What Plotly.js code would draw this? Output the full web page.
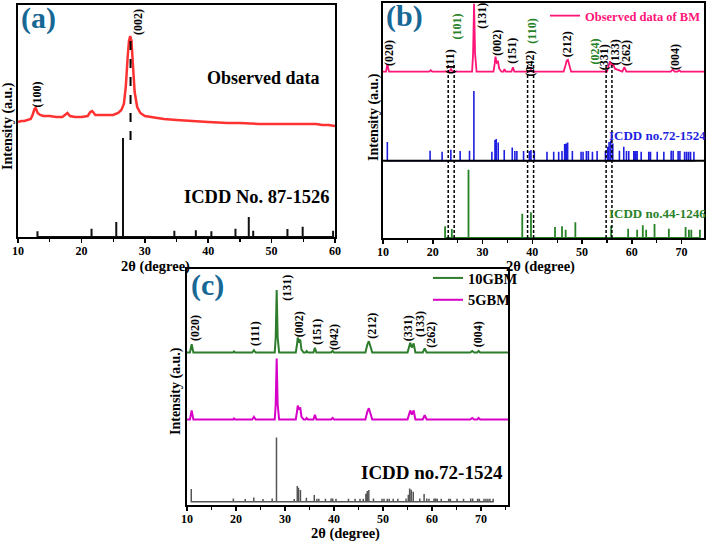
<!DOCTYPE html>
<html><head><meta charset="utf-8">
<script src="https://cdn.plot.ly/plotly-3.0.1.min.js"></script>
<style>html,body{margin:0;padding:0;background:#fff}#plot{width:709px;height:542px}</style>
</head><body><div id="plot"></div>
<script>
// ---------- Panel (a) ----------
const A_OBS_X = [10,10.5,11,11.5,12,12.3,12.6,12.8,13.1,13.5,14,15,16,17,17.5,17.8,18.2,19,20,21,21.4,21.7,22.2,23,24,25,25.8,26.3,26.7,27.0,27.3,27.5,27.7,27.9,28.1,28.4,28.8,29.3,30,31,32,33,35,37,40,43,45,48,50,52,55,57,58,59,60];
const A_OBS_Y = [115,116,116,117,118,122,128,129,124,122,121,121,120,120,122,124,121,120,120,121,125,126,122,122,122,122,124,127,133,150,180,196,201,196,175,145,130,124,121,120,119,118,117,116,115,114,114,113,113,113,113,113,112,112,111];
const A_ICDD_POS = [13.07,21.6,25.5,26.56,34.66,38.05,40.5,44.3,46.4,47.1,52.5,54.9,59.7];
const A_ICDD_INT = [5.7,8.3,15,99,6.3,6.7,5.7,8.3,20,6.3,8,10.3,6.3];
const A_TICKS = [10,20,30,40,50,60];

// ---------- Panel (b) ----------
const BM_X = [10,10.6,10.87,11.2,19.3,19.6,19.9,23.3,23.65,24.0,27.9,28.1,28.3,28.5,28.8,32.2,32.45,32.6,32.85,33.1,33.35,33.8,34.2,34.4,34.7,35.8,36.1,36.4,39.4,39.7,40.0,46.3,46.7,46.9,47.15,47.5,47.8,55.0,55.35,55.6,55.9,56.25,56.6,58.1,58.5,58.9,67.8,68.2,68.6,69.2,69.5,69.8,74.5];
const BM_Y = [0,0,7.4,0,0,1.5,0,0,2.5,0,0,18,68,18,0,0,8,15,9,10,3,0,0,2.5,0,0,4.5,0,0,2,0,0,7,11,12,5,0,0,6,10.5,6.5,7.5,3,0,4.5,0,0,2,0,0,1.5,0,0];
const ICDD72_POS = [10.87,19.46,21.88,23.63,25.5,27.38,28.26,31.88,32.5,32.75,33.15,34.36,35.97,36.5,36.9,38.25,39.4,39.73,40.4,42.95,44.3,45.3,45.97,46.5,46.78,47.1,48.05,49.8,50.2,50.87,51.27,52.08,53.02,54.7,55.16,55.43,55.77,56.17,57.5,58.38,58.92,59.38,60.4,60.73,61.07,61.88,63.4,63.75,65.1,66.43,67.9,68.3,69.3,69.66,70.6,71.0,71.4,71.8,72.47];
const ICDD72_INT_B = [18.7,10,9,11,9.7,10,69.7,9,20.7,21.7,18.3,10.7,13.3,9.7,9.7,9.7,9.7,10.7,9.7,9,9,9,9.7,16.7,17.3,18.3,9.7,9,9,9.7,9.7,9,9.7,9.7,14,18.7,20.3,17.3,10,14,9.7,9.7,9.7,9.7,9.7,9,9,9,9,9,10,10,9.7,9.7,9,9,9,9,9];
const ICDD44_POS = [22.48,23.83,27.18,37.98,39.73,44.56,45.97,46.7,48.65,55.84,59.26,61.07,62.2,62.88,64.56,67.44,70.8,71.47,71.95,73.68];
const ICDD44_INT = [11.7,9,68.3,24.3,25.7,11,11.7,8.3,15.7,12.3,9.3,8.3,12.7,8.3,14,9.3,11,8.3,8.3,8.3];
const B_DASH_X = [23.1,24.3,39.05,40.26,54.83,56.0];

// ---------- Panel (c) ----------
const G10_X = [10,10.6,10.95,11.3,19.4,19.6,19.8,23.3,23.65,24.0,27.9,28.1,28.3,28.5,28.8,32.2,32.45,32.6,32.85,33.1,33.35,33.8,34.2,34.4,34.7,35.8,36.1,36.4,39.4,39.7,40.0,46.4,46.8,47.1,47.5,47.8,55.0,55.3,55.55,55.9,56.25,56.6,58.1,58.5,58.9,67.8,68.2,68.6,69.2,69.5,69.8,75.5];
const G10_Y = [0,0,8.3,0,0,1,0,0,2.3,0,0,15,62.5,15,0,0,8,15,10,13,3,0,0,1.5,0,0,4.7,0,0,1.5,0,0,8,11.3,5,0,0,6,9.7,5,9,0,0,4,0,0,1.5,0,0,1.5,0,0];
const G5_Y  = [0,0,9,0,0,1,0,0,2.7,0,0,15,61,15,0,0,8,14,10,12,3,0,0,1.5,0,0,4.7,0,0,1.5,0,0,8,11.3,5,0,0,6,9,5,9,0,0,4.3,0,0,1.5,0,0,1.5,0,0];
const ICDD72_INT_C = [12.7,3.3,2.7,4.3,2.7,3.3,64.3,2.7,15.7,14,11.7,4,6.7,3,3,3,3.3,3.3,3,3,3,3,3,8,10.7,11.7,3.3,3,3,3,3,3,3,3.3,7,13.3,12,10,3.3,7.7,3.3,3,3.3,3.3,3,3,3,3,3,3,3.3,3.3,3,3,3,3,3,3,3];
const C_TICKS = [10,20,30,40,50,60,70];

// ---------- helpers ----------
const W = 709, H = 542;
const PX = v => v / W, PY = v => 1 - v / H;
const SERIF = 'Liberation Serif';
function sticks(pos, inten, base) {
  const x = [], y = [];
  pos.forEach((p, i) => { x.push(p, p, p); y.push(base, base + inten[i], base); });
  return {x, y};
}
const shift = (arr, b) => arr.map(v => v + b);

const A_BASE_ICDD = 0;
const B_BASE_BM = 166.3, B_BASE_72 = 77.3, B_BASE_44 = 0;
const C_BASE_10 = 152.5, C_BASE_5 = 85.5, C_BASE_72 = 3.3;

const sA = sticks(A_ICDD_POS, A_ICDD_INT, A_BASE_ICDD);
const sB72 = sticks(ICDD72_POS, ICDD72_INT_B, B_BASE_72);
const sB44 = sticks(ICDD44_POS, ICDD44_INT, B_BASE_44);
const sC72 = sticks(ICDD72_POS, ICDD72_INT_C, C_BASE_72);

const RED = 'rgb(255,50,50)', PINK = 'rgb(255,20,120)', BLUE = 'rgb(30,30,225)', GREEN = 'rgb(40,130,40)';
const GREEN_C = 'rgb(45,125,45)', MAG = 'rgb(215,0,200)', GRAY = 'rgb(85,85,85)', TEAL = 'rgb(24,104,150)';

const traces = [
  {x: A_OBS_X, y: A_OBS_Y, xaxis: 'x', yaxis: 'y', mode: 'lines', line: {color: RED, width: 2.5}, showlegend: false},
  {x: sA.x, y: sA.y, xaxis: 'x', yaxis: 'y', mode: 'lines', line: {color: '#111', width: 2}, showlegend: false},
  {x: BM_X, y: shift(BM_Y, B_BASE_BM), xaxis: 'x2', yaxis: 'y2', mode: 'lines', name: 'Observed data of BM', line: {color: PINK, width: 1.8}, legend: 'legend'},
  {x: sB72.x, y: sB72.y, xaxis: 'x2', yaxis: 'y2', mode: 'lines', line: {color: BLUE, width: 1.6}, showlegend: false},
  {x: sB44.x, y: sB44.y, xaxis: 'x2', yaxis: 'y2', mode: 'lines', line: {color: GREEN, width: 1.8}, showlegend: false},
  {x: G10_X, y: shift(G10_Y, C_BASE_10), xaxis: 'x3', yaxis: 'y3', mode: 'lines', name: '10GBM', line: {color: GREEN_C, width: 2}, legend: 'legend2'},
  {x: G10_X, y: shift(G5_Y, C_BASE_5), xaxis: 'x3', yaxis: 'y3', mode: 'lines', name: '5GBM', line: {color: MAG, width: 2}, legend: 'legend2'},
  {x: sC72.x, y: sC72.y, xaxis: 'x3', yaxis: 'y3', mode: 'lines', line: {color: GRAY, width: 1.5}, showlegend: false}
];

function xax(dom, range, ticks) {
  return {domain: dom, range: range, tickmode: 'array', tickvals: ticks, ticktext: ticks.map(String),
    ticks: 'outside', ticklen: 4, tickwidth: 1.5, tickcolor: '#000', ticklabelstandoff: -2,
    minor: {tickmode: 'linear', tick0: 5, dtick: 10, ticks: 'outside', ticklen: 3, tickwidth: 1.2, tickcolor: '#000'},
    showline: true, linecolor: '#000', linewidth: 2, mirror: true, showgrid: false, zeroline: false,
    tickfont: {family: SERIF, size: 12, color: '#000', weight: 'bold'}};
}
function yax(dom, range, anchor) {
  return {domain: dom, range: range, anchor: anchor, showticklabels: false, ticks: '', showline: true,
    linecolor: '#000', linewidth: 2, mirror: true, showgrid: false, zeroline: false};
}

function lab(text, x, y, opts) {
  opts = opts || {};
  return {text: '<b>' + text + '</b>', x: PX(x), y: PY(y), xref: 'paper', yref: 'paper', showarrow: false,
    xanchor: 'center', yanchor: 'middle', textangle: opts.rot ? -90 : 0,
    font: {family: SERIF, size: opts.size || 12, color: opts.color || '#000'}};
}

const ann = [
  // (a)
  lab('(a)', 38, 18, {size: 30, color: TEAL}),
  lab('(100)', 36.5, 95, {rot: 1}),
  lab('(002)', 138, 22, {rot: 1}),
  lab('Observed data', 263, 78, {size: 18}),
  lab('ICDD No. 87-1526', 256, 197, {size: 18.5}),
  lab('2θ (degree)', 155, 266.5, {size: 14.5}),
  lab('Intensity (a.u.)', 8, 126, {rot: 1, size: 14}),
  // (b)
  lab('(b)', 404, 16, {size: 30, color: TEAL}),
  lab('(020)', 389, 53, {rot: 1}),
  lab('(111)', 450, 62, {rot: 1}),
  lab('(101)', 456.5, 27, {rot: 1, color: GREEN}),
  lab('(131)', 481.7, 16, {rot: 1}),
  lab('(002)', 496.7, 43, {rot: 1}),
  lab('(151)', 511.7, 51, {rot: 1}),
  lab('(042)', 529.5, 64, {rot: 1}),
  lab('(110)', 531.7, 31, {rot: 1, color: GREEN}),
  lab('(212)', 567.3, 44, {rot: 1}),
  lab('(024)', 594.5, 52, {rot: 1, color: GREEN}),
  lab('(331)', 604.3, 57, {rot: 1}),
  lab('(133)', 615.3, 52, {rot: 1}),
  lab('(262)', 626, 53, {rot: 1}),
  lab('(004)', 675, 57, {rot: 1}),
  lab('ICDD no.72-1524', 657, 135, {size: 13, color: BLUE}),
  lab('ICDD no.44-1246', 657, 213, {size: 13, color: GREEN}),
  lab('2θ (degree)', 540, 266, {size: 14.5}),
  lab('Intensity (a.u.)', 374, 117, {rot: 1, size: 14}),
  // (c)
  lab('(c)', 207, 285, {size: 30, color: TEAL}),
  lab('(020)', 195, 328, {rot: 1}),
  lab('(111)', 255, 334, {rot: 1}),
  lab('(131)', 286.7, 288, {rot: 1}),
  lab('(002)', 299.3, 324, {rot: 1}),
  lab('(151)', 316.7, 332, {rot: 1}),
  lab('(042)', 334, 337, {rot: 1}),
  lab('(212)', 371.7, 326, {rot: 1}),
  lab('(331)', 408.3, 328, {rot: 1}),
  lab('(133)', 420, 324, {rot: 1}),
  lab('(262)', 430.7, 335, {rot: 1}),
  lab('(004)', 478.3, 334, {rot: 1}),
  lab('ICDD no.72-1524', 432, 472, {size: 19}),
  lab('2θ (degree)', 345, 533.5, {size: 14.5}),
  lab('Intensity (a.u.)', 176, 391, {rot: 1, size: 14})
];

const shapes = [
  {type: 'line', xref: 'x', yref: 'y', x0: 27.75, x1: 27.75, y0: 97, y1: 199, line: {color: '#000', width: 2, dash: 'dash'}},
  {type: 'line', xref: 'x2 domain', yref: 'y2', x0: 0, x1: 1, y0: B_BASE_72, y1: B_BASE_72, line: {color: '#000', width: 2}}
].concat(B_DASH_X.map(v => ({type: 'line', xref: 'x2', yref: 'y2', x0: v, x1: v, y0: 0, y1: 175,
  line: {color: '#000', width: 1.5, dash: '3px,2px'}})));

const layout = {
  width: W, height: H, margin: {l: 0, r: 0, t: 0, b: 0},
  paper_bgcolor: '#fff', plot_bgcolor: '#fff',
  xaxis: xax([PX(18), PX(335)], [10, 60], A_TICKS),
  yaxis: yax([PY(237), PY(5)], [0, 232], 'x'),
  xaxis2: Object.assign(xax([PX(383), PX(704)], [10, 74.5], C_TICKS), {anchor: 'y2'}),
  yaxis2: yax([PY(238), PY(3)], [0, 235], 'x2'),
  xaxis3: Object.assign(xax([PX(187), PX(508)], [10, 75.5], C_TICKS), {anchor: 'y3'}),
  yaxis3: yax([PY(505), PY(269)], [0, 236], 'x3'),
  annotations: ann,
  shapes: shapes,
  legend: {x: PX(706), xanchor: 'right', y: PY(1), yanchor: 'top', bgcolor: 'rgba(0,0,0,0)',
    font: {family: SERIF, size: 12.5, color: PINK, weight: 'bold'}, itemwidth: 30},
  legend2: {x: PX(428), xanchor: 'left', y: PY(262), yanchor: 'top', bgcolor: 'rgba(0,0,0,0)',
    font: {family: SERIF, size: 14.5, color: '#000', weight: 'bold'}, itemwidth: 30, tracegroupgap: 0},
  showlegend: true
};
layout.xaxis.anchor = 'y';

Plotly.newPlot('plot', traces, layout, {staticPlot: true, displayModeBar: false});
</script></body></html>
